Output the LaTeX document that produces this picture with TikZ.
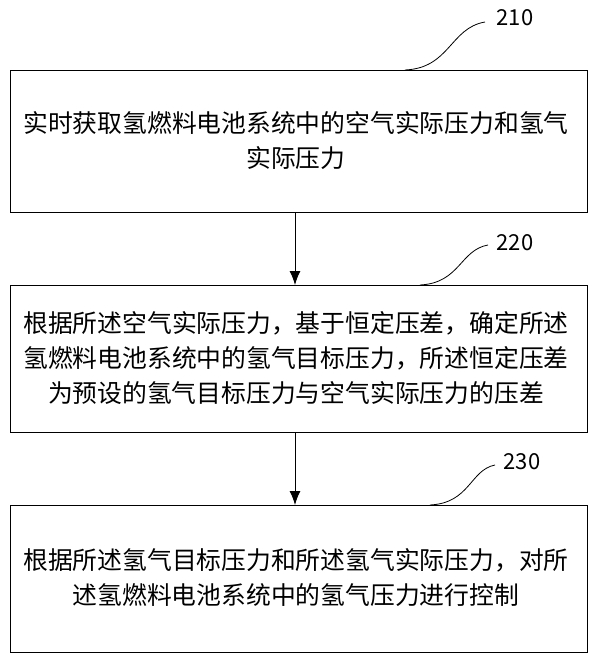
\documentclass[tikz,border=0pt]{standalone}
\usepackage{fontspec}
\newfontfamily\cjk{Noto Sans CJK SC}
\begin{document}
\begin{tikzpicture}[x=1pt,y=-1pt,
  box/.style={draw,line width=1pt},
  txt/.style={font=\cjk\fontsize{24.8}{35}\selectfont,align=center,text width=580pt},
  lab/.style={font=\cjk\fontsize{22}{26}\selectfont},
  arr/.style={-{Latex[length=14pt,width=11pt]},line width=1pt}]
\useasboundingbox (0,0) rectangle (600,662);
\usetikzlibrary{arrows.meta}
\draw[box] (10,70) rectangle (587,212);
\node[txt] (t1) at (296,141) {实时获取氢燃料电池系统中的空气实际压力和氢气\\实际压力};
\draw[box] (10,285) rectangle (587,432);
\node[txt] (t2) at (296,358) {根据所述空气实际压力，基于恒定压差，确定所述\\氢燃料电池系统中的氢气目标压力，所述恒定压差\\为预设的氢气目标压力与空气实际压力的压差};
\draw[box] (10,505) rectangle (587,652);
\node[txt] (t3) at (296,578) {根据所述氢气目标压力和所述氢气实际压力，对所\\述氢燃料电池系统中的氢气压力进行控制};
\coordinate (a1) at (295,212); \coordinate (b1) at (295,285);
\coordinate (a2) at (295,432); \coordinate (b2) at (295,505);
\draw[arr] (a1) -- (b1);
\draw[arr] (a2) -- (b2);
\node[lab] (l1) at (515,18) {210};
\node[lab] (l2) at (515,243) {220};
\node[lab] (l3) at (522,462) {230};
\draw[line width=0.8pt] (405,70) .. controls (450,68) and (450,28) .. (485,22);
\draw[line width=0.8pt] (420,285) .. controls (460,283) and (460,250) .. (488,245);
\draw[line width=0.8pt] (430,505) .. controls (470,503) and (470,470) .. (495,465);
\end{tikzpicture}
\end{document}
